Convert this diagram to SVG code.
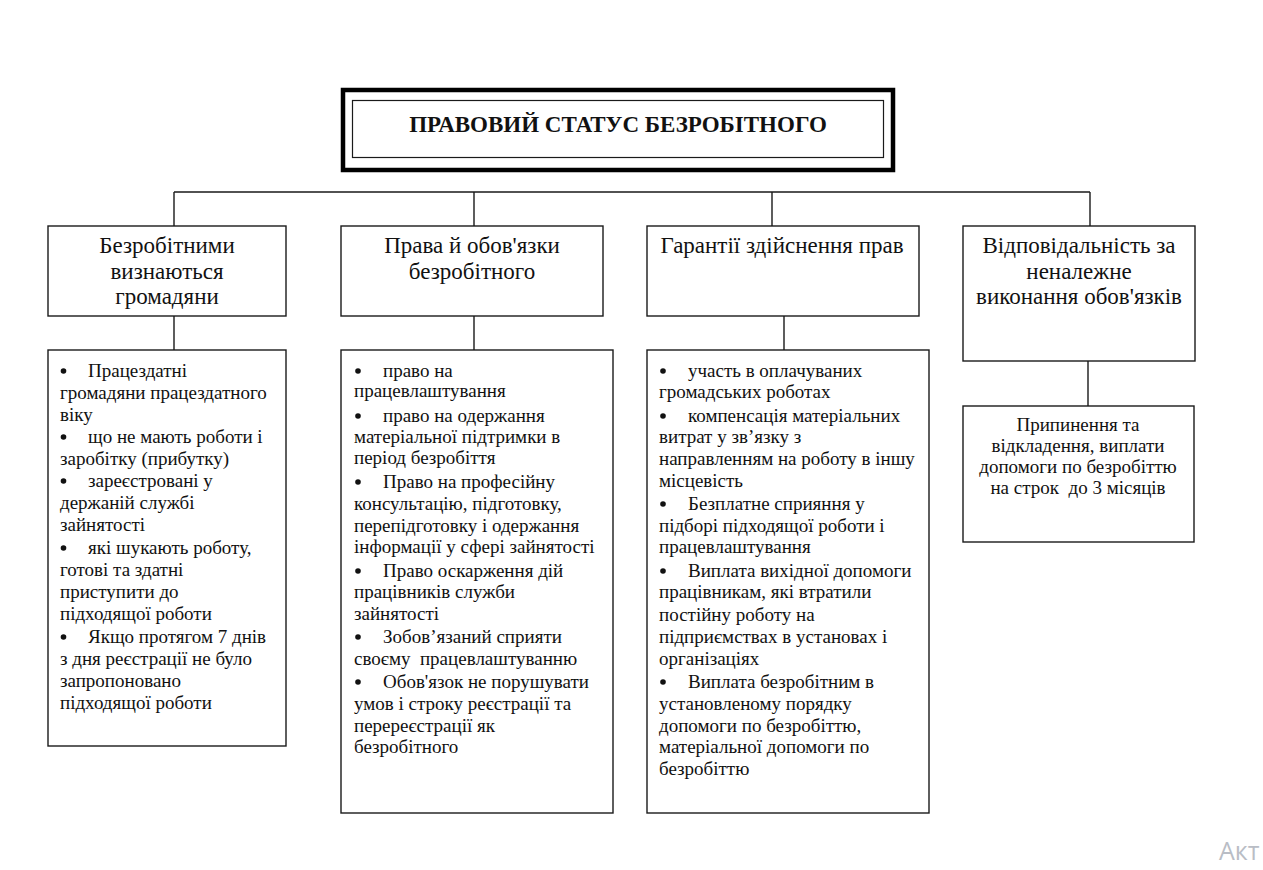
<svg xmlns="http://www.w3.org/2000/svg" width="1263" height="870" viewBox="0 0 1263 870">
<defs>
<circle id="bul" r="2.8" fill="#111"/>
</defs>
<style>
.box{fill:#fff;stroke:#1a1a1a;stroke-width:1.4}
.ln{stroke:#1a1a1a;stroke-width:1.4;fill:none}
.t{font-family:"Liberation Serif","Times New Roman",serif;fill:#111;white-space:pre}
.h{font-size:23px;text-anchor:middle}
.c{font-size:19px}
.cc{font-size:19px;text-anchor:middle}
.ttl{font-size:23px;font-weight:bold;text-anchor:middle}
</style>
<rect width="1263" height="870" fill="#fff"/>
<g id="connectors">
<path class="ln" d="M174,192 H1090 M174,192 V226 M474,192 V226 M772,192 V226 M1090,192 V226"/>
<path class="ln" d="M174,316 V350 M474,316 V350 M784,316 V350 M1088,361 V406"/>
<path class="ln" d="M454,486 V497"/>
</g>
<g id="title">
<rect x="343" y="90" width="550" height="80" fill="#fff" stroke="#000" stroke-width="4.5"/>
<rect x="352.5" y="100.5" width="531" height="57" fill="none" stroke="#1a1a1a" stroke-width="1.2"/>
<text class="t ttl" x="618" y="132">ПРАВОВИЙ СТАТУС БЕЗРОБІТНОГО</text>
</g>
<g id="h1">
<rect class="box" x="48" y="226" width="238" height="90"/>
<text class="t h" x="167" y="253">Безробітними</text>
<text class="t h" x="167" y="279">визнаються</text>
<text class="t h" x="167" y="304">громадяни</text>
</g>
<g id="h2">
<rect class="box" x="341" y="226" width="262" height="90"/>
<text class="t h" x="472" y="253">Права й обов'язки</text>
<text class="t h" x="472" y="279">безробітного</text>
</g>
<g id="h3">
<rect class="box" x="647" y="226" width="272" height="90"/>
<text class="t h" x="782" y="253">Гарантії здійснення прав</text>
</g>
<g id="h4">
<rect class="box" x="963" y="226" width="232" height="135"/>
<text class="t h" x="1079" y="253">Відповідальність за</text>
<text class="t h" x="1079" y="279">неналежне</text>
<text class="t h" x="1079" y="304">виконання обов'язків</text>
</g>
<g id="c1">
<rect class="box" x="48" y="350" width="238" height="396"/>
<use href="#bul" x="63.5" y="371"/><use href="#bul" x="63.5" y="437"/><use href="#bul" x="63.5" y="481"/><use href="#bul" x="63.5" y="548"/><use href="#bul" x="63.5" y="637"/>
<text class="t c"><tspan x="88" y="377">Працездатні</tspan><tspan x="60" y="399">громадяни працездатного</tspan><tspan x="60" y="421">віку</tspan><tspan x="88" y="443">що не мають роботи і</tspan><tspan x="60" y="465">заробітку (прибутку)</tspan><tspan x="88" y="487">зареєстровані у</tspan><tspan x="60" y="509">держаній службі</tspan><tspan x="60" y="531">зайнятості</tspan><tspan x="88" y="554">які шукають роботу,</tspan><tspan x="60" y="576">готові та здатні</tspan><tspan x="60" y="598">приступити до</tspan><tspan x="60" y="620">підходящої роботи</tspan><tspan x="88" y="643">Якщо протягом 7 днів</tspan><tspan x="60" y="665">з дня реєстрації не було</tspan><tspan x="60" y="687">запропоновано</tspan><tspan x="60" y="709">підходящої роботи</tspan></text>
</g>
<g id="c2">
<rect class="box" x="341" y="350" width="272" height="463"/>
<use href="#bul" x="358" y="371"/><use href="#bul" x="358" y="416"/><use href="#bul" x="358" y="482"/><use href="#bul" x="358" y="571"/><use href="#bul" x="358" y="637"/><use href="#bul" x="358" y="682"/>
<text class="t c"><tspan x="383" y="377">право на</tspan><tspan x="354" y="397">працевлаштування</tspan><tspan x="383" y="422">право на одержання</tspan><tspan x="354" y="443">матеріальної підтримки в</tspan><tspan x="354" y="464">період безробіття</tspan><tspan x="383" y="488">Право на професійну</tspan><tspan x="354" y="510">консультацію, підготовку,</tspan><tspan x="354" y="532">перепідготовку і одержання</tspan><tspan x="354" y="553">інформації у сфері зайнятості</tspan><tspan x="383" y="577">Право оскарження дій</tspan><tspan x="354" y="598">працівників служби</tspan><tspan x="354" y="620">зайнятості</tspan><tspan x="383" y="643">Зобов’язаний сприяти</tspan><tspan x="354" y="665">своєму  працевлаштуванню</tspan><tspan x="383" y="688">Обов'язок не порушувати</tspan><tspan x="354" y="710">умов і строку реєстрації та</tspan><tspan x="354" y="732">перереєстрації як</tspan><tspan x="354" y="753">безробітного</tspan></text>
</g>
<g id="c3">
<rect class="box" x="647" y="350" width="282" height="463"/>
<use href="#bul" x="663" y="371"/><use href="#bul" x="663" y="416"/><use href="#bul" x="663" y="504"/><use href="#bul" x="663" y="571"/><use href="#bul" x="663" y="682"/>
<text class="t c"><tspan x="688" y="377">участь в оплачуваних</tspan><tspan x="659" y="398">громадських роботах</tspan><tspan x="688" y="422">компенсація матеріальних</tspan><tspan x="659" y="443">витрат у зв’язку з</tspan><tspan x="659" y="465">направленням на роботу в іншу</tspan><tspan x="659" y="487">місцевість</tspan><tspan x="688" y="510">Безплатне сприяння у</tspan><tspan x="659" y="532">підборі підходящої роботи і</tspan><tspan x="659" y="553">працевлаштування</tspan><tspan x="688" y="577">Виплата вихідної допомоги</tspan><tspan x="659" y="598">працівникам, які втратили</tspan><tspan x="659" y="621">постійну роботу на</tspan><tspan x="659" y="643">підприємствах в установах і</tspan><tspan x="659" y="665">організаціях</tspan><tspan x="688" y="688">Виплата безробітним в</tspan><tspan x="659" y="710">установленому порядку</tspan><tspan x="659" y="732">допомоги по безробіттю,</tspan><tspan x="659" y="753">матеріальної допомоги по</tspan><tspan x="659" y="775">безробіттю</tspan></text>
</g>
<g id="c4">
<rect class="box" x="963" y="406" width="231" height="136"/>
<text class="t cc"><tspan x="1078" y="431">Припинення та</tspan><tspan x="1078" y="452">відкладення, виплати</tspan><tspan x="1078" y="473">допомоги по безробіттю</tspan><tspan x="1078" y="494">на строк  до 3 місяців</tspan></text>
</g>
<text x="1219" y="860" font-family="'Segoe UI','Open Sans','Noto Sans',sans-serif" font-size="25" fill="#b9bdc5">Акт</text>
</svg>
